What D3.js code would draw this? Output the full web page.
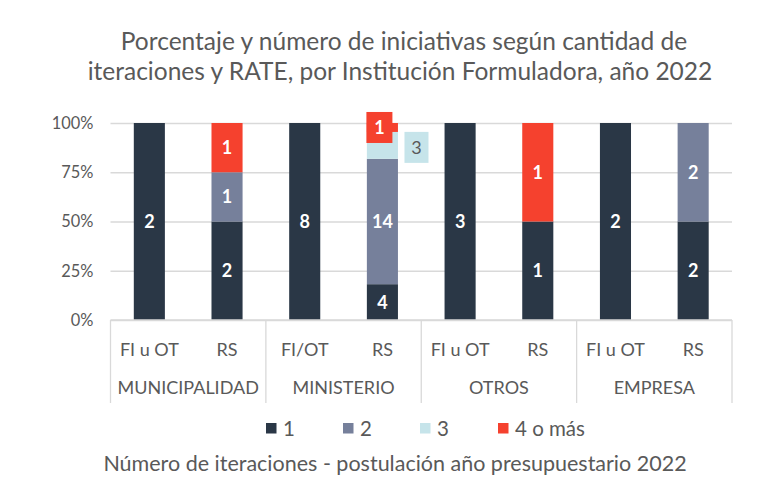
<!DOCTYPE html>
<html>
<head>
<meta charset="utf-8">
<script src="https://cdn.jsdelivr.net/npm/d3@7"></script>
<style>
  body { margin: 0; background: #fff; }
  svg { font-family: Lato, "Open Sans", sans-serif; }
</style>
</head>
<body>
<svg id="chart"></svg>
<script>
// data
const groups = ["MUNICIPALIDAD", "MINISTERIO", "OTROS", "EMPRESA"];
const subLabels = ["FI u OT", "RS", "FI/OT", "RS", "FI u OT", "RS", "FI u OT", "RS"];
const series = ["1", "2", "3", "4 o más"];
const iter1 = [2, 2, 8, 4, 3, 1, 2, 2];
const iter2 = [0, 1, 0, 14, 0, 0, 0, 2];
const iter3 = [0, 0, 0, 3, 0, 0, 0, 0];
const iter4 = [0, 1, 0, 1, 0, 1, 0, 0];
const yTicks = [0, 0.25, 0.5, 0.75, 1];

const colors = ["#2a3746", "#76809b", "#c6e4ea", "#f5412e"];
const textColors = ["#fff", "#fff", "#595959", "#fff"];

const width = 779, height = 486;
const margin = {top: 123, right: 47, bottom: 166, left: 110.5},
      bodyWidth = width - margin.left - margin.right,
      bodyHeight = height - margin.top - margin.bottom;

const svg = d3.select("#chart").attr("width", width).attr("height", height);

// build table of rows
const rows = subLabels.map((s, i) => {
    const vals = [iter1[i], iter2[i], iter3[i], iter4[i]];
    const total = d3.sum(vals);
    let acc = 0;
    const segs = vals.map((v, k) => {
        const y0 = acc / total;
        acc += v;
        return {k: k, v: v, y0: y0, y1: acc / total};
    });
    return {key: i, label: s, segs: segs};
});

const xScale = d3.scaleBand()
        .domain(rows.map(d => d.key))
        .range([0, bodyWidth])
        .paddingInner(0.6).paddingOuter(0.3),
      yScale = d3.scaleLinear().domain([0, 1]).range([bodyHeight, 0]);

const body = svg.append("g").attr("transform", `translate(${margin.left},${margin.top})`);

// title
svg.append("text")
    .attr("x", 404).attr("y", 50)
    .attr("text-anchor", "middle").attr("fill", "#595959").attr("font-size", 24.5)
    .text("Porcentaje y número de iniciativas según cantidad de");
svg.append("text")
    .attr("x", 400).attr("y", 80)
    .attr("text-anchor", "middle").attr("fill", "#595959").attr("font-size", 24.5)
    .text("iteraciones y RATE, por Institución Formuladora, año 2022");

// gridlines + y axis labels
const yAxis = d3.axisLeft(yScale).tickValues(yTicks)
        .tickFormat(d3.format(".0%")).tickSize(-bodyWidth).tickPadding(17);
const yAxisView = body.append("g").call(yAxis);
yAxisView.select(".domain").remove();
yAxisView.selectAll(".tick line").attr("stroke", "#d9d9d9").attr("stroke-width", 1.3);
yAxisView.selectAll(".tick text")
    .attr("fill", "#595959").attr("font-size", 16.4)
    .attr("font-family", "Lato, sans-serif");

// bars
const barGroups = body.selectAll("g.bar")
    .data(rows).enter().append("g").attr("class", "bar");

barGroups.selectAll("rect")
    .data(d => d.segs.filter(s => s.v > 0).map(s => Object.assign({key: d.key}, s)))
    .enter().append("rect")
    .attr("x", d => xScale(d.key))
    .attr("width", xScale.bandwidth())
    .attr("y", d => yScale(d.y1))
    .attr("height", d => yScale(d.y0) - yScale(d.y1))
    .attr("fill", d => colors[d.k]);

// data labels
const labels = barGroups.selectAll("g.lbl")
    .data(d => d.segs.filter(s => s.v > 0).map(s => Object.assign({key: d.key}, s)))
    .enter().append("g").attr("class", "lbl")
    .attr("transform", d => {
        let cx = xScale(d.key) + xScale.bandwidth() / 2,
            cy = yScale((d.y0 + d.y1) / 2);
        const small = (d.y1 - d.y0) < 0.15;
        if (small && d.k === 2) { cx += xScale.bandwidth() + 3; cy += 2; }
        if (small && d.k === 3) { cx -= 3; }
        return `translate(${cx},${cy})`;
    });

labels.filter(d => (d.y1 - d.y0) < 0.15)
    .append("rect")
    .attr("x", d => d.k === 2 ? -12 : -13).attr("y", -15.5)
    .attr("width", d => d.k === 2 ? 24 : 26).attr("height", 31)
    .attr("fill", d => colors[d.k]);

labels.append("text")
    .attr("text-anchor", "middle").attr("dy", "0.36em")
    .attr("font-size", 18).attr("font-weight", d => d.k === 2 ? 400 : 700)
    .attr("fill", d => textColors[d.k])
    .text(d => d.v);

// category axis
const axisG = body.append("g").attr("transform", `translate(0,${bodyHeight})`);
const groupWidth = bodyWidth / groups.length;
const sepX = d3.range(groups.length + 1).map(i => i * groupWidth);
axisG.selectAll("line.sep").data(sepX).enter().append("line")
    .attr("x1", d => d).attr("x2", d => d)
    .attr("y1", 0).attr("y2", 83)
    .attr("stroke", "#d9d9d9").attr("stroke-width", 1.3);
axisG.append("line").attr("x1", 0).attr("x2", bodyWidth)
    .attr("stroke", "#d9d9d9").attr("stroke-width", 1.3);

axisG.selectAll("text.sub").data(rows).enter().append("text")
    .attr("x", d => xScale(d.key) + xScale.bandwidth() / 2)
    .attr("y", 36)
    .attr("text-anchor", "middle").attr("fill", "#595959").attr("font-size", 18)
    .text(d => d.label);

axisG.selectAll("text.grp").data(groups).enter().append("text")
    .attr("x", (d, i) => (i + 0.5) * groupWidth)
    .attr("y", 74)
    .attr("text-anchor", "middle").attr("fill", "#595959").attr("font-size", 18)
    .text(d => d);

// legend
const legendX = [266, 343, 420, 498];
const legend = svg.append("g").selectAll("g").data(series).enter().append("g")
    .attr("transform", (d, i) => `translate(${legendX[i]},423)`);
legend.append("rect").attr("width", 10.5).attr("height", 10.5).attr("fill", (d, i) => colors[i]);
legend.append("text").attr("x", 17).attr("y", 5.5).attr("dy", "0.36em")
    .attr("fill", "#595959").attr("font-size", 20.5).text(d => d);

// x axis title
svg.append("text")
    .attr("x", 395).attr("y", 471)
    .attr("text-anchor", "middle").attr("fill", "#595959").attr("font-size", 21.5)
    .text("Número de iteraciones - postulación año presupuestario 2022");
</script>
</body>
</html>
